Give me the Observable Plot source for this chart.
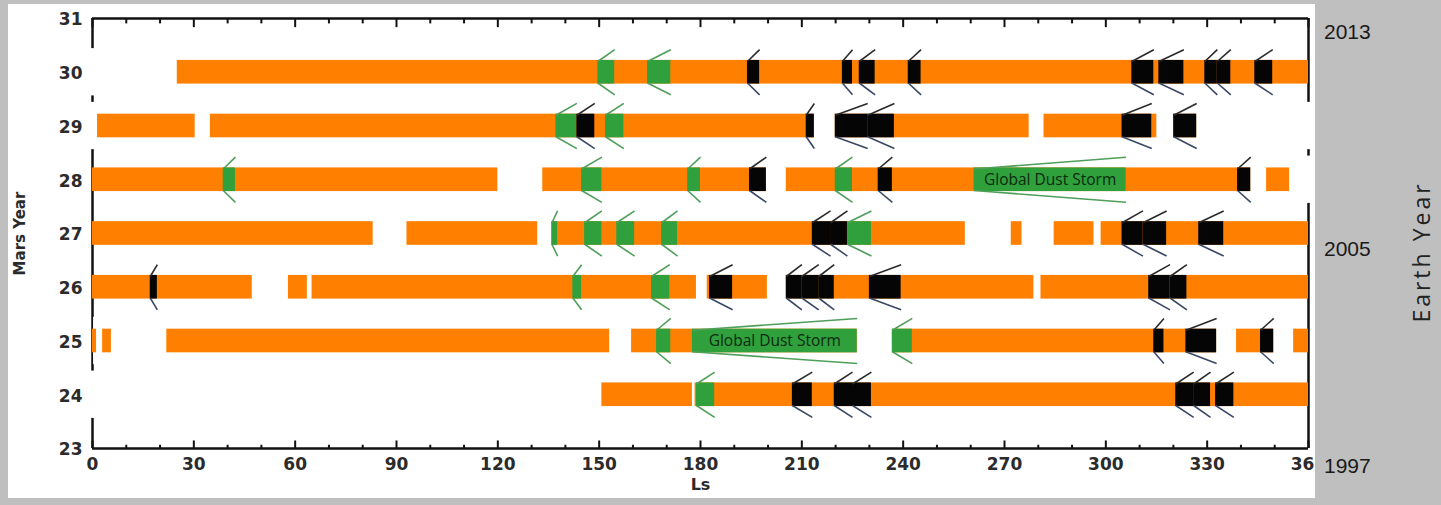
<!DOCTYPE html>
<html>
<head>
<meta charset="utf-8">
<script src="https://cdn.jsdelivr.net/npm/d3@7"></script>
<script src="https://cdn.jsdelivr.net/npm/@observablehq/plot@0.6"></script>
<style>
html,body{margin:0;padding:0;background:#bfbfbf;}
#wrap{position:relative;width:1441px;height:505px;background:#bfbfbf;overflow:hidden;}
#chart{position:absolute;left:8px;top:4px;width:1307px;height:494px;background:#fff;overflow:hidden;}
#side{position:absolute;left:1315px;top:0;width:126px;height:505px;background:#bfbfbf;}
.ey{position:absolute;left:9px;font-family:"Liberation Sans";font-size:21px;color:#1a1a1a;line-height:1;transform:translateY(-50%);}
#earth{position:absolute;left:106px;top:252px;transform:translate(-50%,-50%) rotate(-90deg);font-family:"Open Sans";font-size:23px;letter-spacing:3px;white-space:nowrap;color:#222;}
</style>
</head>
<body>
<div id="wrap">
  <div id="chart"></div>
  <div id="side">
    <div class="ey" id="ey0" style="top:31px"></div>
    <div class="ey" id="ey1" style="top:248px"></div>
    <div class="ey" id="ey2" style="top:465px"></div>
    <div id="earth"></div>
  </div>
</div>
<script>
// ---------------- data ----------------
const marsYearTicks = [23, 24, 25, 26, 27, 28, 29, 30, 31];
const lsTicks = [0, 30, 60, 90, 120, 150, 180, 210, 240, 270, 300, 330, 360];
const lsMinorTicks = [10, 20, 40, 50, 70, 80, 100, 110, 130, 140, 160, 170, 190, 200, 220, 230, 250, 260, 280, 290, 310, 320, 340, 350];
const earthYearLabels = ["2013", "2005", "1997"];
const xTitle = "Ls";
const yTitle = "Mars Year";
const rightTitle = "Earth Year";
const globalLabel = "Global Dust Storm";
const rowYears = [24, 25, 26, 27, 28, 29, 30];

// observation coverage [Mars year, Ls start, Ls end]
const observed = [
  [30, 25.1, 360],
  [29, 1.5, 30.4], [29, 34.9, 213.7], [29, 219.9, 277.3], [29, 281.7, 315.1], [29, 320.1, 326.9],
  [28, 0, 120], [28, 133.3, 199.5], [28, 205.4, 342.9], [28, 347.6, 354.4],
  [27, 0, 83.1], [27, 93.1, 131.8], [27, 136, 258.4], [27, 272, 275.2], [27, 284.7, 296.5], [27, 298.6, 360],
  [26, 0, 47.3], [26, 58, 63.6], [26, 65, 178.8], [26, 182, 199.8], [26, 205.4, 278.7], [26, 280.8, 360],
  [25, 0, 1.2], [25, 3, 5.6], [25, 22, 153.1], [25, 159.6, 226.4], [25, 236.8, 332.8], [25, 338.7, 349.7], [25, 355.6, 360],
  [24, 150.8, 177.6], [24, 178.4, 360]
];

// green storms [Mars year, Ls start, Ls end]
const greenStorms = [
  [30, 149.6, 154.6], [30, 164.3, 171.2],
  [29, 137.2, 143.4], [29, 151.9, 157.3],
  [28, 38.7, 42.3], [28, 144.8, 150.8], [28, 176.2, 180], [28, 219.9, 225],
  [27, 136, 137.7], [27, 145.7, 150.8], [27, 155.2, 160.5], [27, 168.5, 173.2], [27, 223.5, 230.6],
  [26, 142.2, 144.8], [26, 165.5, 170.9],
  [25, 167, 171.2], [25, 236.8, 242.7],
  [24, 178.8, 184.2]
];

// black storms [Mars year, Ls start, Ls end]
const blackStorms = [
  [30, 193.9, 197.5], [30, 222, 225], [30, 227, 231.7], [30, 241.5, 245.3], [30, 307.7, 314.2], [30, 315.7, 323.1], [30, 329.3, 333], [30, 333, 337], [30, 344.1, 349.4],
  [29, 143.4, 148.7], [29, 211.3, 213.7], [29, 219.9, 229.5], [29, 229.5, 237.4], [29, 304.8, 313.6], [29, 320.1, 326.9],
  [28, 194.5, 199.5], [28, 232.6, 236.8], [28, 339, 342.9],
  [27, 213.1, 218.5], [27, 218.5, 223.5], [27, 304.8, 311], [27, 311, 318], [27, 327.5, 334.9],
  [26, 17.1, 19.2], [26, 182.7, 189.5], [26, 205.4, 210], [26, 210, 215], [26, 215, 219.6], [26, 230, 239.4], [26, 312.7, 319], [26, 319, 324],
  [25, 314.2, 317.2], [25, 323.7, 332.8], [25, 345.8, 349.7],
  [24, 207.2, 213.1], [24, 219.6, 225], [24, 225, 230.6], [24, 320.7, 326], [24, 326, 331], [24, 332.5, 337.9]
];

// global dust storms [Mars year, Ls start, Ls end]
const globalStorms = [
  [28, 261, 306],
  [25, 177.6, 226.4]
];

// ---------------- derived tables ----------------
const HALF = 0.22;      // bar half-height (years)
const BAND = 0.44;      // white gap band half-height
const ARM = 0.2;        // chevron rise

const gaps = [];
for (const yr of rowYears) {
  const segs = observed.filter(d => d[0] === yr).sort((a, b) => a[1] - b[1]);
  let cur = 0;
  for (const s of segs) {
    if (s[1] > cur) gaps.push([yr, cur, s[1]]);
    cur = Math.max(cur, s[2]);
  }
  if (cur < 360) gaps.push([yr, cur, 360]);
}

function armsOf(list) {
  const out = [];
  for (const [y, s, e] of list) {
    out.push({x1: s, y1: y + HALF - 0.02, x2: e, y2: y + HALF + ARM, side: "up"});
    out.push({x1: s, y1: y - HALF + 0.02, x2: e, y2: y - HALF - ARM, side: "down"});
  }
  return out;
}
const greenArms = armsOf(greenStorms.concat(globalStorms));
const blackArms = armsOf(blackStorms);

const ORANGE = "#ff7f00";
const GREEN = "#2fa03c";

const plot = Plot.plot({
  width: 1307,
  height: 494,
  marginLeft: 84,
  marginRight: 7,
  marginTop: 14,
  marginBottom: 50,
  x: {domain: [0, 360], axis: null},
  y: {domain: [23, 31], axis: null},
  style: {background: "white", fontFamily: "DejaVu Sans", overflow: "visible"},
  marks: [
    // frame
    Plot.ruleY([23, 31], {x1: 0, x2: 360, stroke: "#111", strokeWidth: 2.5}),
    Plot.ruleX([0, 360], {y1: 23, y2: 31, stroke: "#111", strokeWidth: 2.5}),
    // ticks
    Plot.ruleX(lsTicks, {x: d => d, y1: 31, y2: 31 - 0.17, stroke: "#111", strokeWidth: 2}),
    Plot.ruleX(lsMinorTicks, {x: d => d, y1: 31, y2: 31 - 0.1, stroke: "#111", strokeWidth: 2}),
    Plot.ruleX(lsTicks, {x: d => d, y1: 23, y2: 23 + 0.14, stroke: "#111", strokeWidth: 2}),
    Plot.ruleX(lsMinorTicks, {x: d => d, y1: 23, y2: 23 + 0.06, stroke: "#111", strokeWidth: 2}),
    // white gap bands (hide frame where no data)
    Plot.rect(gaps, {x1: d => d[1], x2: d => d[2], y1: d => d[0] - BAND, y2: d => d[0] + BAND, fill: "white", insetLeft: -3, insetRight: -3}),
    // coverage
    Plot.rect(observed, {x1: d => d[1], x2: d => d[2], y1: d => d[0] - HALF, y2: d => d[0] + HALF, fill: ORANGE}),
    // storms
    Plot.rect(greenStorms, {x1: d => d[1], x2: d => d[2], y1: d => d[0] - HALF, y2: d => d[0] + HALF, fill: GREEN}),
    Plot.rect(globalStorms, {x1: d => d[1], x2: d => d[2], y1: d => d[0] - HALF, y2: d => d[0] + HALF, fill: GREEN}),
    Plot.rect(blackStorms, {x1: d => d[1], x2: d => d[2], y1: d => d[0] - HALF, y2: d => d[0] + HALF, fill: "#050505"}),
    // chevron arms
    Plot.link(greenArms, {x1: "x1", y1: "y1", x2: "x2", y2: "y2", stroke: "#4f9e5a", strokeWidth: 1.6}),
    Plot.link(blackArms.filter(d => d.side === "up"), {x1: "x1", y1: "y1", x2: "x2", y2: "y2", stroke: "#2a2a2a", strokeWidth: 1.6}),
    Plot.link(blackArms.filter(d => d.side === "down"), {x1: "x1", y1: "y1", x2: "x2", y2: "y2", stroke: "#3a4866", strokeWidth: 1.6}),
    // global dust storm labels
    Plot.text(globalStorms, {x: d => (d[1] + d[2]) / 2, y: d => d[0], text: () => globalLabel, fontFamily: "Open Sans", fontSize: 15.5, fill: "#0c2a10"}),
    // axis labels
    Plot.text(lsTicks, {x: d => d, y: 23, dy: 16, text: d => String(d), fontSize: 17, fontWeight: "bold", fill: "#2b2b2b", ariaLabel: "ticklabels"}),
    Plot.text(marsYearTicks, {x: 0, y: d => d, dx: -10, dy: 1.5, text: d => String(d), textAnchor: "end", fontSize: 17, fontWeight: "bold", fill: "#2b2b2b", ariaLabel: "ticklabels"}),
    Plot.text([xTitle], {x: 180, y: 23, dy: 36, text: d => d, fontSize: 16, fontWeight: "bold", fill: "#2b2b2b"}),
    Plot.text([yTitle], {x: 0, y: 27, dx: -72, text: d => d, rotate: -90, fontSize: 15, fontWeight: "bold", fill: "#2b2b2b", ariaLabel: "ytitle"})
  ]
});

d3.select(plot).selectAll('g[aria-label="ticklabels"] text').style("letter-spacing", "3px");
d3.select(plot).selectAll('g[aria-label="ytitle"] text').style("letter-spacing", "2.5px");
document.getElementById("chart").appendChild(plot);

earthYearLabels.forEach((t, i) => { document.getElementById("ey" + i).textContent = t; });
document.getElementById("earth").textContent = rightTitle;
</script>
</body>
</html>
